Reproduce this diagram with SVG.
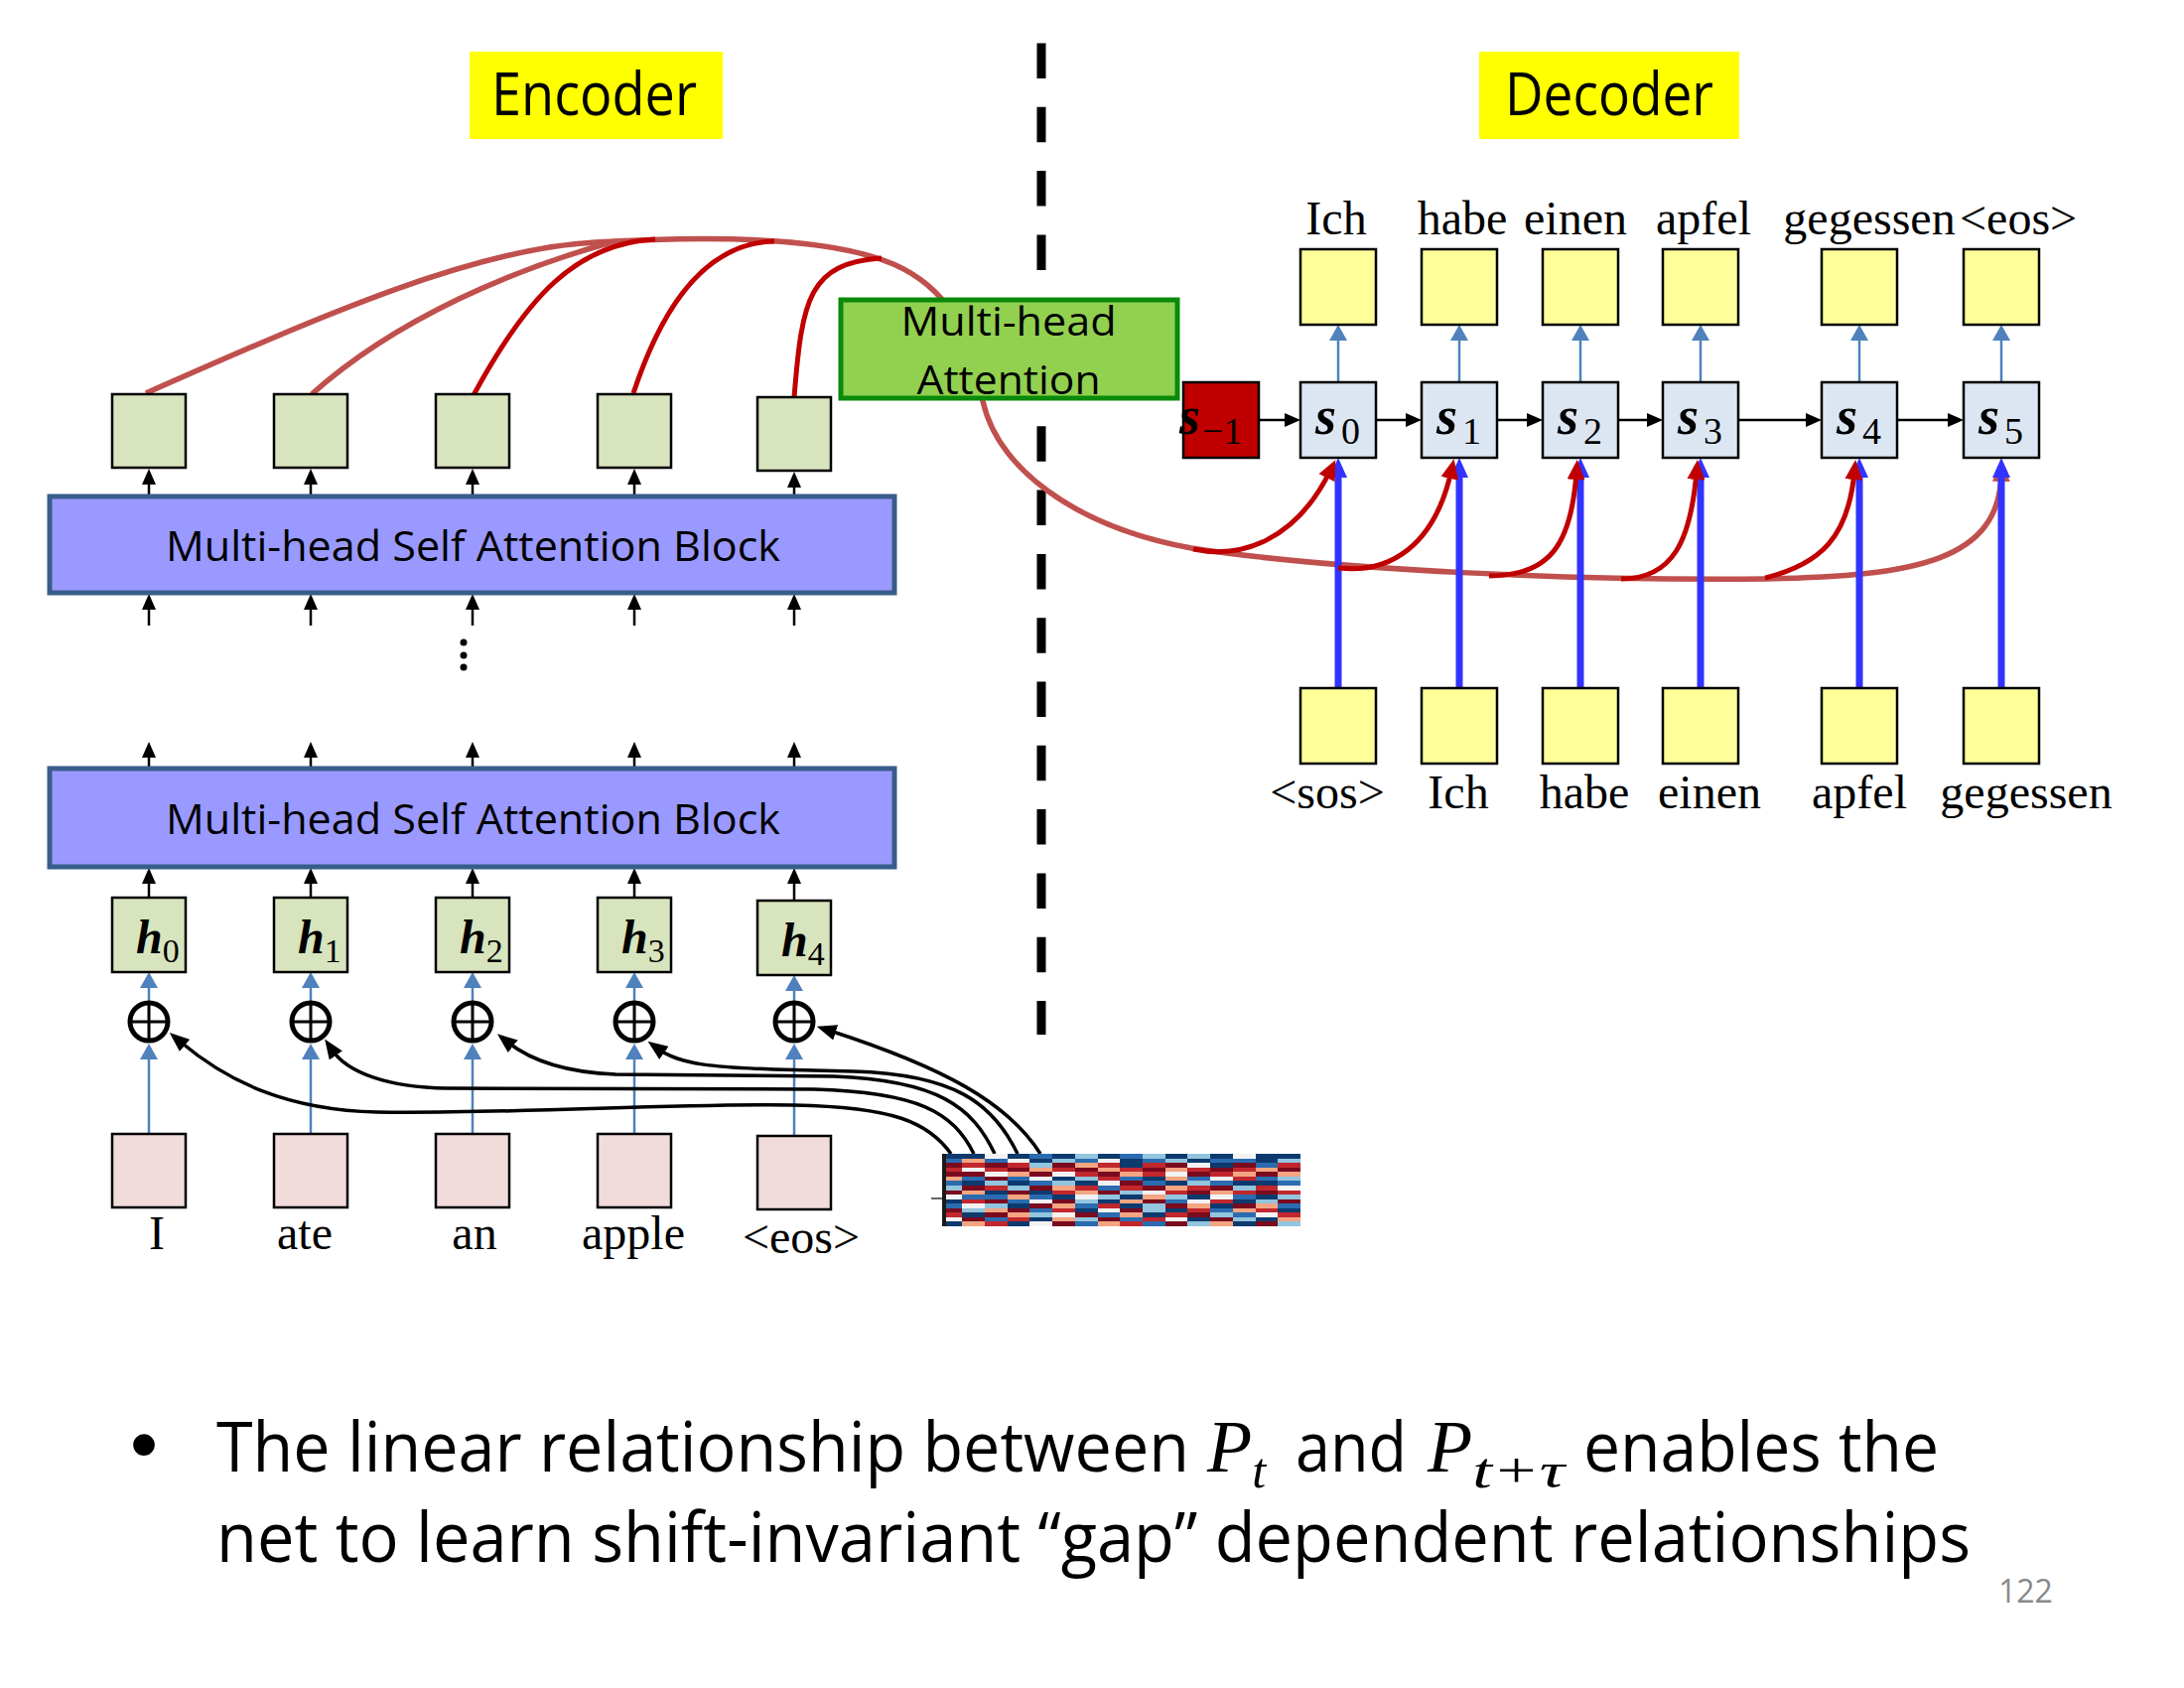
<svg xmlns="http://www.w3.org/2000/svg" width="2200" height="1700" viewBox="0 0 2200 1700">
<defs>
<style>
.sans{font-family:"Open Sans","Liberation Sans",sans-serif;fill:#000}
.word{font-family:"Liberation Serif","Times New Roman",serif;font-size:48px;fill:#000}
.box{stroke:#000;stroke-width:2.5}
.eg{fill:#d7e4bd}.pk{fill:#f2dcdb}.yl{fill:#ffff99}.sbx{fill:#dce6f2}
.blk{fill:#9999ff;stroke:#385d8a;stroke-width:5}
.ak{stroke:#000;stroke-width:2.5;fill:none;marker-end:url(#mk)}
.bt{stroke:#4f81bd;stroke-width:2.5;fill:none;marker-end:url(#mb)}
.bb{stroke:#3333ff;stroke-width:7;fill:none;marker-end:url(#mbb)}
.kc{stroke:#000;stroke-width:3.5;fill:none;marker-end:url(#mkc)}
.rl{stroke:#c0504d;stroke-width:5.5;fill:none}
.rd{stroke:#c00000;stroke-width:5;fill:none}
.rda{stroke:#c00000;stroke-width:5;fill:none;marker-end:url(#mrd)}
.hv{font-family:"Liberation Serif",serif;font-weight:bold;font-style:italic;fill:#000}
.sub{font-family:"Liberation Serif",serif;fill:#000}
.mi{font-family:"Liberation Serif",serif;font-style:italic;fill:#000}
.add circle{fill:none;stroke:#000;stroke-width:5}
.add path{stroke:#000;stroke-width:3}
.a{fill:#0d3a6e}.b{fill:#2b6cb0}.c{fill:#92c5de}.d{fill:#f2f2f2}.e{fill:#f4a582}.g{fill:#c1272d}.h{fill:#7a0a1e}
</style>
<marker id="mk" viewBox="0 0 16 14" refX="6" refY="7" markerWidth="16" markerHeight="14" markerUnits="userSpaceOnUse" orient="auto"><path d="M0,0L16,7L0,14z" fill="#000"/></marker>
<marker id="mb" viewBox="0 0 16 18" refX="6" refY="9" markerWidth="16" markerHeight="18" markerUnits="userSpaceOnUse" orient="auto"><path d="M0,0L16,9L0,18z" fill="#4f81bd"/></marker>
<marker id="mbb" viewBox="0 0 20 18" refX="8" refY="9" markerWidth="20" markerHeight="18" markerUnits="userSpaceOnUse" orient="auto"><path d="M0,0L20,9L0,18z" fill="#3333ff"/></marker>
<marker id="mkc" viewBox="0 0 20 16" refX="6" refY="8" markerWidth="20" markerHeight="16" markerUnits="userSpaceOnUse" orient="auto"><path d="M0,0L20,8L0,16z" fill="#000"/></marker>
<marker id="mrd" viewBox="0 0 20 18" refX="8" refY="9" markerWidth="20" markerHeight="18" markerUnits="userSpaceOnUse" orient="auto"><path d="M0,0L20,9L0,18z" fill="#c00000"/></marker>
<marker id="mrl" viewBox="0 0 20 18" refX="8" refY="9" markerWidth="20" markerHeight="18" markerUnits="userSpaceOnUse" orient="auto"><path d="M0,0L20,9L0,18z" fill="#c0504d"/></marker>
</defs>
<rect width="2200" height="1700" fill="#fff"/>

<g id="enc-title"><rect x="473" y="52" width="255" height="88" fill="#ffff00"/><text x="495" y="116" class="sans" font-size="60" textLength="207" lengthAdjust="spacingAndGlyphs">Encoder</text></g>
<g id="dec-title"><rect x="1490" y="52" width="262" height="88" fill="#ffff00"/><text x="1516" y="116" class="sans" font-size="60" textLength="210" lengthAdjust="spacingAndGlyphs">Decoder</text></g>

<g id="divider"><path d="M1049,43.5V1042" stroke="#000" stroke-width="9" stroke-dasharray="35.5 28.8"/></g>

<g id="connectors">
<path class="ak" d="M150,500V482"/><path class="ak" d="M313,500V482"/><path class="ak" d="M476,500V482"/><path class="ak" d="M639,500V482"/><path class="ak" d="M800,500V485"/>
<path class="ak" d="M150,630V608"/><path class="ak" d="M313,630V608"/><path class="ak" d="M476,630V608"/><path class="ak" d="M639,630V608"/><path class="ak" d="M800,630V608"/>
<path class="ak" d="M150,774V757"/><path class="ak" d="M313,774V757"/><path class="ak" d="M476,774V757"/><path class="ak" d="M639,774V757"/><path class="ak" d="M800,774V757"/>
<path class="ak" d="M150,904V884"/><path class="ak" d="M313,904V884"/><path class="ak" d="M476,904V884"/><path class="ak" d="M639,904V884"/><path class="ak" d="M800,907V884"/>
<path class="bt" d="M150,1142V1061"/><path class="bt" d="M313,1142V1061"/><path class="bt" d="M476,1142V1061"/><path class="bt" d="M639,1142V1061"/><path class="bt" d="M800,1144V1061"/>
<path class="bt" d="M150,1008V989"/><path class="bt" d="M313,1008V989"/><path class="bt" d="M476,1008V989"/><path class="bt" d="M639,1008V989"/><path class="bt" d="M800,1008V992"/>
<path class="kc" d="M958,1162C935,1130 900,1115 800,1113C680,1111 520,1122 380,1120C290,1118 230,1090 181.5,1049"/>
<path class="kc" d="M981,1162C960,1120 925,1100 820,1097L450,1096C390,1095 350,1080 335,1058"/>
<path class="kc" d="M1002,1162C980,1115 945,1088 840,1084L620,1082C570,1080 535,1068 512,1050"/>
<path class="kc" d="M1025,1162C1000,1110 960,1082 860,1079L780,1077C720,1075 685,1072 664,1057"/>
<path class="kc" d="M1048,1162C1015,1110 950,1075 836,1038"/>
<path class="rl" d="M147,396C330,315 480,250 600,244C700,238 830,236 900,266C955,290 982,340 990,404C1005,470 1080,530 1200,552C1350,575 1600,585 1780,583C1930,580 2014,565 2016,477" marker-end="url(#mrl)"/>
<path class="rl" d="M314,397C400,320 520,270 620,243"/>
<path class="rd" d="M477,398C530,300 580,245 660,241"/>
<path class="rd" d="M638,396C660,330 700,245 780,243"/>
<path class="rd" d="M800,400C808,300 815,265 888,260"/>
<path class="ak" d="M1268,423H1300"/><path class="ak" d="M1386,423H1422"/><path class="ak" d="M1508,423H1544"/><path class="ak" d="M1630,423H1665"/><path class="ak" d="M1751,423H1825"/><path class="ak" d="M1911,423H1968"/>
<path class="bt" d="M1348,385V337"/><path class="bt" d="M1470,385V337"/><path class="bt" d="M1592,385V337"/><path class="bt" d="M1713,385V337"/><path class="bt" d="M1873,385V337"/><path class="bt" d="M2016,385V337"/>
<path class="bb" d="M1348,693V473"/><path class="bb" d="M1470,693V473"/><path class="bb" d="M1592,693V473"/><path class="bb" d="M1713,693V473"/><path class="bb" d="M1873,693V473"/><path class="bb" d="M2016,693V473"/>
<path class="rda" d="M1202,553C1250,563 1305,545 1340,474"/>
<path class="rda" d="M1348,572C1400,578 1445,550 1462,474"/>
<path class="rda" d="M1500,580C1560,580 1583,550 1588,475"/>
<path class="rda" d="M1633,583C1685,583 1703,545 1709,475"/>
<path class="rda" d="M1778,582C1835,568 1862,540 1868,475"/>
</g>

<g id="enc-out">
<rect id="enc-out-0" class="box eg" x="113" y="397" width="74" height="74"/>
<rect id="enc-out-1" class="box eg" x="276" y="397" width="74" height="74"/>
<rect id="enc-out-2" class="box eg" x="439" y="397" width="74" height="74"/>
<rect id="enc-out-3" class="box eg" x="602" y="397" width="74" height="74"/>
<rect id="enc-out-4" class="box eg" x="763" y="400" width="74" height="74"/>
</g>

<g id="block-1"><rect class="blk" x="50" y="500" width="851" height="97"/><text x="167" y="565" class="sans" font-size="42" textLength="619" lengthAdjust="spacingAndGlyphs">Multi-head Self Attention Block</text></g>
<g id="ellipsis"><circle cx="467" cy="647" r="3.5"/><circle cx="467" cy="660" r="3.5"/><circle cx="467" cy="672" r="3.5"/></g>
<g id="block-2"><rect class="blk" x="50" y="774" width="851" height="99"/><text x="167" y="840" class="sans" font-size="42" textLength="619" lengthAdjust="spacingAndGlyphs">Multi-head Self Attention Block</text></g>

<g id="h-0"><rect class="box eg" x="113" y="904" width="74" height="75"/><text x="137" y="960" class="hv" font-size="48">h<tspan class="sub" font-weight="normal" font-style="normal" font-size="34" dy="9">0</tspan></text></g>
<g id="h-1"><rect class="box eg" x="276" y="904" width="74" height="75"/><text x="300" y="960" class="hv" font-size="48">h<tspan class="sub" font-weight="normal" font-style="normal" font-size="34" dy="9">1</tspan></text></g>
<g id="h-2"><rect class="box eg" x="439" y="904" width="74" height="75"/><text x="463" y="960" class="hv" font-size="48">h<tspan class="sub" font-weight="normal" font-style="normal" font-size="34" dy="9">2</tspan></text></g>
<g id="h-3"><rect class="box eg" x="602" y="904" width="74" height="75"/><text x="626" y="960" class="hv" font-size="48">h<tspan class="sub" font-weight="normal" font-style="normal" font-size="34" dy="9">3</tspan></text></g>
<g id="h-4"><rect class="box eg" x="763" y="907" width="74" height="75"/><text x="787" y="963" class="hv" font-size="48">h<tspan class="sub" font-weight="normal" font-style="normal" font-size="34" dy="9">4</tspan></text></g>

<g id="add-0" class="add"><circle cx="150" cy="1029" r="19"/><path d="M131,1029H169M150,1010V1048"/></g>
<g id="add-1" class="add"><circle cx="313" cy="1029" r="19"/><path d="M294,1029H332M313,1010V1048"/></g>
<g id="add-2" class="add"><circle cx="476" cy="1029" r="19"/><path d="M457,1029H495M476,1010V1048"/></g>
<g id="add-3" class="add"><circle cx="639" cy="1029" r="19"/><path d="M620,1029H658M639,1010V1048"/></g>
<g id="add-4" class="add"><circle cx="800" cy="1029" r="19"/><path d="M781,1029H819M800,1010V1048"/></g>

<g id="emb-0"><rect class="box pk" x="113" y="1142" width="74" height="74"/><text x="158" y="1258" class="word" text-anchor="middle">I</text></g>
<g id="emb-1"><rect class="box pk" x="276" y="1142" width="74" height="74"/><text x="307" y="1258" class="word" text-anchor="middle">ate</text></g>
<g id="emb-2"><rect class="box pk" x="439" y="1142" width="74" height="74"/><text x="478" y="1258" class="word" text-anchor="middle">an</text></g>
<g id="emb-3"><rect class="box pk" x="602" y="1142" width="74" height="74"/><text x="638" y="1258" class="word" text-anchor="middle">apple</text></g>
<g id="emb-4"><rect class="box pk" x="763" y="1144" width="74" height="74"/><text x="807" y="1262" class="word" text-anchor="middle">&lt;eos&gt;</text></g>

<g id="pe-heatmap">
<g transform="translate(946.5,1162) scale(22.72,4.5625)" shape-rendering="crispEdges">
<g><rect x="0.11" width="0.89" height="1" class="a"/><rect x="1" width="1" height="1" class="a"/><rect x="2" width="1" height="1" class="d"/><rect x="3" width="1" height="1" class="a"/><rect x="4" width="1" height="1" class="b"/><rect x="5" width="1" height="1" class="a"/><rect x="6" width="1" height="1" class="c"/><rect x="7" width="1" height="1" class="a"/><rect x="8" width="1" height="1" class="b"/><rect x="9" width="1" height="1" class="c"/><rect x="10" width="1" height="1" class="a"/><rect x="11" width="1" height="1" class="c"/><rect x="12" width="1" height="1" class="a"/><rect x="13" width="1" height="1" class="d"/><rect x="14" width="1" height="1" class="a"/><rect x="15" width="1" height="1" class="a"/></g>
<g transform="translate(0,1)"><rect x="0.11" width="0.89" height="1" class="b"/><rect x="1" width="1" height="1" class="e"/><rect x="2" width="1" height="1" class="b"/><rect x="3" width="1" height="1" class="d"/><rect x="4" width="1" height="1" class="a"/><rect x="5" width="1" height="1" class="c"/><rect x="6" width="1" height="1" class="b"/><rect x="7" width="1" height="1" class="d"/><rect x="8" width="1" height="1" class="a"/><rect x="9" width="1" height="1" class="b"/><rect x="10" width="1" height="1" class="c"/><rect x="11" width="1" height="1" class="a"/><rect x="12" width="1" height="1" class="b"/><rect x="13" width="1" height="1" class="b"/><rect x="14" width="1" height="1" class="a"/><rect x="15" width="1" height="1" class="c"/></g>
<g transform="translate(0,2)"><rect x="0.11" width="0.89" height="1" class="h"/><rect x="1" width="1" height="1" class="g"/><rect x="2" width="1" height="1" class="h"/><rect x="3" width="1" height="1" class="g"/><rect x="4" width="1" height="1" class="c"/><rect x="5" width="1" height="1" class="h"/><rect x="6" width="1" height="1" class="e"/><rect x="7" width="1" height="1" class="g"/><rect x="8" width="1" height="1" class="a"/><rect x="9" width="1" height="1" class="g"/><rect x="10" width="1" height="1" class="h"/><rect x="11" width="1" height="1" class="d"/><rect x="12" width="1" height="1" class="a"/><rect x="13" width="1" height="1" class="h"/><rect x="14" width="1" height="1" class="b"/><rect x="15" width="1" height="1" class="g"/></g>
<g transform="translate(0,3)"><rect x="0.11" width="0.89" height="1" class="g"/><rect x="1" width="1" height="1" class="d"/><rect x="2" width="1" height="1" class="g"/><rect x="3" width="1" height="1" class="h"/><rect x="4" width="1" height="1" class="e"/><rect x="5" width="1" height="1" class="g"/><rect x="6" width="1" height="1" class="h"/><rect x="7" width="1" height="1" class="e"/><rect x="8" width="1" height="1" class="g"/><rect x="9" width="1" height="1" class="h"/><rect x="10" width="1" height="1" class="e"/><rect x="11" width="1" height="1" class="g"/><rect x="12" width="1" height="1" class="h"/><rect x="13" width="1" height="1" class="g"/><rect x="14" width="1" height="1" class="e"/><rect x="15" width="1" height="1" class="h"/></g>
<g transform="translate(0,4)"><rect x="0.11" width="0.89" height="1" class="h"/><rect x="1" width="1" height="1" class="h"/><rect x="2" width="1" height="1" class="d"/><rect x="3" width="1" height="1" class="e"/><rect x="4" width="1" height="1" class="h"/><rect x="5" width="1" height="1" class="d"/><rect x="6" width="1" height="1" class="g"/><rect x="7" width="1" height="1" class="h"/><rect x="8" width="1" height="1" class="e"/><rect x="9" width="1" height="1" class="g"/><rect x="10" width="1" height="1" class="d"/><rect x="11" width="1" height="1" class="h"/><rect x="12" width="1" height="1" class="g"/><rect x="13" width="1" height="1" class="e"/><rect x="14" width="1" height="1" class="h"/><rect x="15" width="1" height="1" class="e"/></g>
<g transform="translate(0,5)"><rect x="0.11" width="0.89" height="1" class="e"/><rect x="1" width="1" height="1" class="b"/><rect x="2" width="1" height="1" class="h"/><rect x="3" width="1" height="1" class="b"/><rect x="4" width="1" height="1" class="d"/><rect x="5" width="1" height="1" class="a"/><rect x="6" width="1" height="1" class="c"/><rect x="7" width="1" height="1" class="g"/><rect x="8" width="1" height="1" class="b"/><rect x="9" width="1" height="1" class="a"/><rect x="10" width="1" height="1" class="e"/><rect x="11" width="1" height="1" class="b"/><rect x="12" width="1" height="1" class="d"/><rect x="13" width="1" height="1" class="g"/><rect x="14" width="1" height="1" class="b"/><rect x="15" width="1" height="1" class="c"/></g>
<g transform="translate(0,6)"><rect x="0.11" width="0.89" height="1" class="b"/><rect x="1" width="1" height="1" class="a"/><rect x="2" width="1" height="1" class="c"/><rect x="3" width="1" height="1" class="a"/><rect x="4" width="1" height="1" class="b"/><rect x="5" width="1" height="1" class="c"/><rect x="6" width="1" height="1" class="a"/><rect x="7" width="1" height="1" class="d"/><rect x="8" width="1" height="1" class="h"/><rect x="9" width="1" height="1" class="b"/><rect x="10" width="1" height="1" class="a"/><rect x="11" width="1" height="1" class="c"/><rect x="12" width="1" height="1" class="b"/><rect x="13" width="1" height="1" class="a"/><rect x="14" width="1" height="1" class="a"/><rect x="15" width="1" height="1" class="b"/></g>
<g transform="translate(0,7)"><rect x="0.11" width="0.89" height="1" class="c"/><rect x="1" width="1" height="1" class="h"/><rect x="2" width="1" height="1" class="g"/><rect x="3" width="1" height="1" class="c"/><rect x="4" width="1" height="1" class="h"/><rect x="5" width="1" height="1" class="e"/><rect x="6" width="1" height="1" class="g"/><rect x="7" width="1" height="1" class="b"/><rect x="8" width="1" height="1" class="g"/><rect x="9" width="1" height="1" class="h"/><rect x="10" width="1" height="1" class="e"/><rect x="11" width="1" height="1" class="g"/><rect x="12" width="1" height="1" class="h"/><rect x="13" width="1" height="1" class="c"/><rect x="14" width="1" height="1" class="g"/><rect x="15" width="1" height="1" class="d"/></g>
<g transform="translate(0,8)"><rect x="0.11" width="0.89" height="1" class="h"/><rect x="1" width="1" height="1" class="e"/><rect x="2" width="1" height="1" class="a"/><rect x="3" width="1" height="1" class="h"/><rect x="4" width="1" height="1" class="a"/><rect x="5" width="1" height="1" class="g"/><rect x="6" width="1" height="1" class="e"/><rect x="7" width="1" height="1" class="h"/><rect x="8" width="1" height="1" class="c"/><rect x="9" width="1" height="1" class="d"/><rect x="10" width="1" height="1" class="g"/><rect x="11" width="1" height="1" class="h"/><rect x="12" width="1" height="1" class="e"/><rect x="13" width="1" height="1" class="g"/><rect x="14" width="1" height="1" class="h"/><rect x="15" width="1" height="1" class="g"/></g>
<g transform="translate(0,9)"><rect x="0.11" width="0.89" height="1" class="d"/><rect x="1" width="1" height="1" class="b"/><rect x="2" width="1" height="1" class="b"/><rect x="3" width="1" height="1" class="e"/><rect x="4" width="1" height="1" class="b"/><rect x="5" width="1" height="1" class="a"/><rect x="6" width="1" height="1" class="d"/><rect x="7" width="1" height="1" class="c"/><rect x="8" width="1" height="1" class="a"/><rect x="9" width="1" height="1" class="e"/><rect x="10" width="1" height="1" class="c"/><rect x="11" width="1" height="1" class="a"/><rect x="12" width="1" height="1" class="d"/><rect x="13" width="1" height="1" class="b"/><rect x="14" width="1" height="1" class="a"/><rect x="15" width="1" height="1" class="c"/></g>
<g transform="translate(0,10)"><rect x="0.11" width="0.89" height="1" class="a"/><rect x="1" width="1" height="1" class="g"/><rect x="2" width="1" height="1" class="h"/><rect x="3" width="1" height="1" class="b"/><rect x="4" width="1" height="1" class="d"/><rect x="5" width="1" height="1" class="h"/><rect x="6" width="1" height="1" class="c"/><rect x="7" width="1" height="1" class="a"/><rect x="8" width="1" height="1" class="e"/><rect x="9" width="1" height="1" class="h"/><rect x="10" width="1" height="1" class="b"/><rect x="11" width="1" height="1" class="d"/><rect x="12" width="1" height="1" class="g"/><rect x="13" width="1" height="1" class="a"/><rect x="14" width="1" height="1" class="c"/><rect x="15" width="1" height="1" class="h"/></g>
<g transform="translate(0,11)"><rect x="0.11" width="0.89" height="1" class="b"/><rect x="1" width="1" height="1" class="d"/><rect x="2" width="1" height="1" class="c"/><rect x="3" width="1" height="1" class="a"/><rect x="4" width="1" height="1" class="h"/><rect x="5" width="1" height="1" class="e"/><rect x="6" width="1" height="1" class="b"/><rect x="7" width="1" height="1" class="g"/><rect x="8" width="1" height="1" class="a"/><rect x="9" width="1" height="1" class="c"/><rect x="10" width="1" height="1" class="h"/><rect x="11" width="1" height="1" class="e"/><rect x="12" width="1" height="1" class="a"/><rect x="13" width="1" height="1" class="h"/><rect x="14" width="1" height="1" class="e"/><rect x="15" width="1" height="1" class="b"/></g>
<g transform="translate(0,12)"><rect x="0.11" width="0.89" height="1" class="h"/><rect x="1" width="1" height="1" class="c"/><rect x="2" width="1" height="1" class="e"/><rect x="3" width="1" height="1" class="h"/><rect x="4" width="1" height="1" class="b"/><rect x="5" width="1" height="1" class="g"/><rect x="6" width="1" height="1" class="a"/><rect x="7" width="1" height="1" class="d"/><rect x="8" width="1" height="1" class="h"/><rect x="9" width="1" height="1" class="c"/><rect x="10" width="1" height="1" class="a"/><rect x="11" width="1" height="1" class="g"/><rect x="12" width="1" height="1" class="b"/><rect x="13" width="1" height="1" class="e"/><rect x="14" width="1" height="1" class="g"/><rect x="15" width="1" height="1" class="a"/></g>
<g transform="translate(0,13)"><rect x="0.11" width="0.89" height="1" class="g"/><rect x="1" width="1" height="1" class="a"/><rect x="2" width="1" height="1" class="h"/><rect x="3" width="1" height="1" class="e"/><rect x="4" width="1" height="1" class="c"/><rect x="5" width="1" height="1" class="d"/><rect x="6" width="1" height="1" class="h"/><rect x="7" width="1" height="1" class="b"/><rect x="8" width="1" height="1" class="e"/><rect x="9" width="1" height="1" class="a"/><rect x="10" width="1" height="1" class="g"/><rect x="11" width="1" height="1" class="h"/><rect x="12" width="1" height="1" class="c"/><rect x="13" width="1" height="1" class="b"/><rect x="14" width="1" height="1" class="d"/><rect x="15" width="1" height="1" class="g"/></g>
<g transform="translate(0,14)"><rect x="0.11" width="0.89" height="1" class="d"/><rect x="1" width="1" height="1" class="h"/><rect x="2" width="1" height="1" class="b"/><rect x="3" width="1" height="1" class="g"/><rect x="4" width="1" height="1" class="a"/><rect x="5" width="1" height="1" class="e"/><rect x="6" width="1" height="1" class="c"/><rect x="7" width="1" height="1" class="h"/><rect x="8" width="1" height="1" class="b"/><rect x="9" width="1" height="1" class="g"/><rect x="10" width="1" height="1" class="d"/><rect x="11" width="1" height="1" class="a"/><rect x="12" width="1" height="1" class="h"/><rect x="13" width="1" height="1" class="c"/><rect x="14" width="1" height="1" class="a"/><rect x="15" width="1" height="1" class="e"/></g>
<g transform="translate(0,15)"><rect x="0.11" width="0.89" height="1" class="a"/><rect x="1" width="1" height="1" class="e"/><rect x="2" width="1" height="1" class="g"/><rect x="3" width="1" height="1" class="a"/><rect x="4" width="1" height="1" class="d"/><rect x="5" width="1" height="1" class="h"/><rect x="6" width="1" height="1" class="b"/><rect x="7" width="1" height="1" class="e"/><rect x="8" width="1" height="1" class="g"/><rect x="9" width="1" height="1" class="b"/><rect x="10" width="1" height="1" class="h"/><rect x="11" width="1" height="1" class="c"/><rect x="12" width="1" height="1" class="e"/><rect x="13" width="1" height="1" class="a"/><rect x="14" width="1" height="1" class="h"/><rect x="15" width="1" height="1" class="c"/></g>
</g>
<rect x="949" y="1162" width="4" height="73" fill="#1a1a1a"/>
<path d="M938,1207H949" stroke="#333" stroke-width="1.5"/>
</g>

<g id="mha"><rect x="847" y="302" width="339" height="99" fill="#92d050" stroke="#0a8a0a" stroke-width="5"/><text x="1016" y="338" class="sans" font-size="41" text-anchor="middle" textLength="217" lengthAdjust="spacingAndGlyphs">Multi-head</text><text x="1016" y="397" class="sans" font-size="41" text-anchor="middle" textLength="185" lengthAdjust="spacingAndGlyphs">Attention</text></g>

<g id="dec-s-1"><rect class="box" fill="#c00000" x="1192" y="385" width="76" height="76"/><text x="1188" y="437" class="hv" font-size="54">s<tspan class="sub" font-weight="normal" font-style="normal" font-size="38" dx="2" dy="10">−1</tspan></text></g>
<g id="dec-s0"><rect class="box sbx" x="1310" y="385" width="76" height="76"/><text x="1325" y="437" class="hv" font-size="54">s<tspan class="sub" font-weight="normal" font-style="normal" font-size="38" dx="5" dy="10">0</tspan></text></g>
<g id="dec-s1"><rect class="box sbx" x="1432" y="385" width="76" height="76"/><text x="1447" y="437" class="hv" font-size="54">s<tspan class="sub" font-weight="normal" font-style="normal" font-size="38" dx="5" dy="10">1</tspan></text></g>
<g id="dec-s2"><rect class="box sbx" x="1554" y="385" width="76" height="76"/><text x="1569" y="437" class="hv" font-size="54">s<tspan class="sub" font-weight="normal" font-style="normal" font-size="38" dx="5" dy="10">2</tspan></text></g>
<g id="dec-s3"><rect class="box sbx" x="1675" y="385" width="76" height="76"/><text x="1690" y="437" class="hv" font-size="54">s<tspan class="sub" font-weight="normal" font-style="normal" font-size="38" dx="5" dy="10">3</tspan></text></g>
<g id="dec-s4"><rect class="box sbx" x="1835" y="385" width="76" height="76"/><text x="1850" y="437" class="hv" font-size="54">s<tspan class="sub" font-weight="normal" font-style="normal" font-size="38" dx="5" dy="10">4</tspan></text></g>
<g id="dec-s5"><rect class="box sbx" x="1978" y="385" width="76" height="76"/><text x="1993" y="437" class="hv" font-size="54">s<tspan class="sub" font-weight="normal" font-style="normal" font-size="38" dx="5" dy="10">5</tspan></text></g>

<g id="dec-out0"><rect class="box yl" x="1310" y="251" width="76" height="76"/><text x="1346" y="236" class="word" text-anchor="middle">Ich</text></g>
<g id="dec-out1"><rect class="box yl" x="1432" y="251" width="76" height="76"/><text x="1473" y="236" class="word" text-anchor="middle">habe</text></g>
<g id="dec-out2"><rect class="box yl" x="1554" y="251" width="76" height="76"/><text x="1587" y="236" class="word" text-anchor="middle">einen</text></g>
<g id="dec-out3"><rect class="box yl" x="1675" y="251" width="76" height="76"/><text x="1716" y="236" class="word" text-anchor="middle">apfel</text></g>
<g id="dec-out4"><rect class="box yl" x="1835" y="251" width="76" height="76"/><text x="1883" y="236" class="word" text-anchor="middle">gegessen</text></g>
<g id="dec-out5"><rect class="box yl" x="1978" y="251" width="76" height="76"/><text x="1974" y="236" class="word">&lt;eos&gt;</text></g>

<g id="dec-in0"><rect class="box yl" x="1310" y="693" width="76" height="76"/><text x="1337" y="814" class="word" text-anchor="middle">&lt;sos&gt;</text></g>
<g id="dec-in1"><rect class="box yl" x="1432" y="693" width="76" height="76"/><text x="1469" y="814" class="word" text-anchor="middle">Ich</text></g>
<g id="dec-in2"><rect class="box yl" x="1554" y="693" width="76" height="76"/><text x="1596" y="814" class="word" text-anchor="middle">habe</text></g>
<g id="dec-in3"><rect class="box yl" x="1675" y="693" width="76" height="76"/><text x="1722" y="814" class="word" text-anchor="middle">einen</text></g>
<g id="dec-in4"><rect class="box yl" x="1835" y="693" width="76" height="76"/><text x="1873" y="814" class="word" text-anchor="middle">apfel</text></g>
<g id="dec-in5"><rect class="box yl" x="1978" y="693" width="76" height="76"/><text x="2041" y="814" class="word" text-anchor="middle">gegessen</text></g>

<g id="bottom-text">
<text x="131" y="1482" font-family="Liberation Sans,sans-serif" font-size="80">•</text>
<text x="218" y="1482" class="sans" font-size="70" textLength="980" lengthAdjust="spacingAndGlyphs">The linear relationship between</text>
<text x="1216" y="1482" class="mi" font-size="74">P<tspan font-size="50" dy="16">t</tspan></text>
<text x="1305" y="1482" class="sans" font-size="70" textLength="112" lengthAdjust="spacingAndGlyphs">and</text>
<text x="1438" y="1482" class="mi" font-size="74">P<tspan font-size="50" dy="16" textLength="93" lengthAdjust="spacingAndGlyphs">t+τ</tspan></text>
<text x="1595" y="1482" class="sans" font-size="70" textLength="358" lengthAdjust="spacingAndGlyphs">enables the</text>
<text x="218" y="1573" class="sans" font-size="70" textLength="1767" lengthAdjust="spacingAndGlyphs">net to learn shift-invariant “gap” dependent relationships</text>
<text x="2013" y="1614" font-family="Open Sans,sans-serif" font-size="32" fill="#898989">122</text>
</g>
</svg>
